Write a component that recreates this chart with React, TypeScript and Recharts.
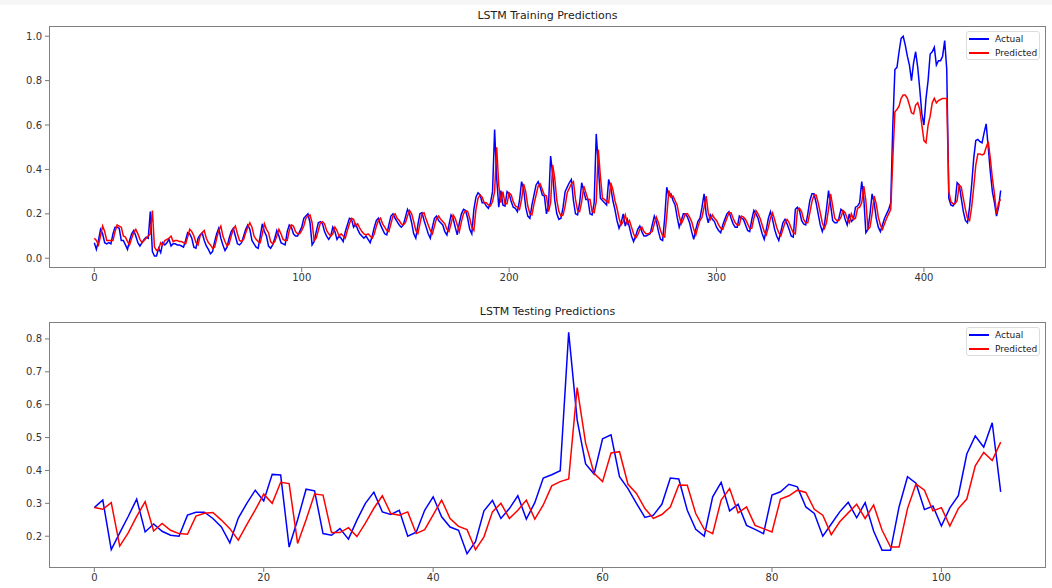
import { LineChart, Line, XAxis, YAxis } from 'recharts'

const FONT = '"DejaVu Sans", sans-serif'

// training set, one value per time step (0..437)
const trainActual = [
  0.07, 0.04, 0.08, 0.13, 0.11, 0.07, 0.065, 0.07, 0.065, 0.11,
  0.14, 0.14, 0.135, 0.08, 0.08, 0.06, 0.04, 0.08, 0.11, 0.125,
  0.1, 0.07, 0.055, 0.07, 0.085, 0.095, 0.09, 0.21, 0.03, 0.01,
  0.01, 0.045, 0.025, 0.07, 0.06, 0.07, 0.085, 0.055, 0.065, 0.065,
  0.06, 0.06, 0.055, 0.05, 0.08, 0.115, 0.11, 0.09, 0.05, 0.045,
  0.09, 0.105, 0.115, 0.08, 0.055, 0.04, 0.02, 0.03, 0.075, 0.11,
  0.135, 0.09, 0.06, 0.035, 0.05, 0.09, 0.12, 0.135, 0.1, 0.065,
  0.06, 0.07, 0.1, 0.13, 0.15, 0.13, 0.08, 0.065, 0.05, 0.045,
  0.1, 0.155, 0.12, 0.1, 0.055, 0.045, 0.06, 0.09, 0.125, 0.1,
  0.07, 0.065, 0.06, 0.12, 0.15, 0.14, 0.11, 0.1, 0.1, 0.12,
  0.14, 0.18, 0.19, 0.2, 0.16, 0.06, 0.075, 0.12, 0.16, 0.165,
  0.155, 0.12, 0.1, 0.085, 0.1, 0.14, 0.12, 0.085, 0.1, 0.09,
  0.075, 0.12, 0.15, 0.18, 0.175, 0.14, 0.155, 0.13, 0.11, 0.1,
  0.09, 0.1, 0.085, 0.07, 0.1, 0.14, 0.17, 0.18, 0.15, 0.13,
  0.11, 0.105, 0.15, 0.19, 0.2, 0.18, 0.165, 0.15, 0.14, 0.15,
  0.185, 0.22, 0.2, 0.16, 0.11, 0.09, 0.15, 0.2, 0.205, 0.17,
  0.14, 0.11, 0.09, 0.14, 0.18, 0.19, 0.17, 0.16, 0.15, 0.12,
  0.105, 0.15, 0.195, 0.18, 0.14, 0.105, 0.16, 0.2, 0.22, 0.215,
  0.18, 0.13, 0.11, 0.22, 0.275, 0.295, 0.285, 0.25, 0.25, 0.235,
  0.225, 0.25, 0.3, 0.58, 0.36, 0.23, 0.305, 0.24, 0.235, 0.3,
  0.29, 0.255, 0.23, 0.225, 0.21, 0.26, 0.345, 0.31, 0.23, 0.19,
  0.18, 0.24, 0.285, 0.33, 0.345, 0.32, 0.285, 0.28, 0.2, 0.24,
  0.46, 0.38, 0.26, 0.2, 0.175, 0.18, 0.23, 0.3, 0.32, 0.34,
  0.355, 0.26, 0.2, 0.195, 0.25, 0.34, 0.3, 0.265, 0.265, 0.2,
  0.195, 0.25, 0.56, 0.42, 0.27, 0.26, 0.25, 0.24, 0.355, 0.32,
  0.26, 0.22, 0.17, 0.135, 0.16, 0.2, 0.145, 0.175, 0.14, 0.1,
  0.075, 0.1, 0.13, 0.145, 0.12, 0.1, 0.1, 0.105, 0.11, 0.15,
  0.19, 0.165, 0.12, 0.085, 0.08, 0.18, 0.32, 0.28, 0.29, 0.26,
  0.24, 0.185, 0.14, 0.17, 0.2, 0.2, 0.185, 0.16, 0.12, 0.085,
  0.13, 0.165, 0.18, 0.23, 0.29, 0.2, 0.16, 0.195, 0.175, 0.165,
  0.14, 0.125, 0.115, 0.15, 0.175, 0.2, 0.21, 0.18, 0.155, 0.14,
  0.14, 0.19, 0.18, 0.175, 0.15, 0.125, 0.12, 0.175, 0.215, 0.2,
  0.18, 0.145, 0.11, 0.085, 0.13, 0.18, 0.21, 0.175, 0.13, 0.1,
  0.08, 0.12, 0.16, 0.175, 0.155, 0.13, 0.1, 0.095, 0.22, 0.23,
  0.215, 0.17, 0.155, 0.15, 0.2, 0.26, 0.29, 0.29, 0.25, 0.2,
  0.15, 0.12, 0.15, 0.22, 0.305, 0.24, 0.17, 0.16, 0.16, 0.18,
  0.22, 0.21, 0.175, 0.15, 0.2, 0.165, 0.175, 0.23, 0.235, 0.25,
  0.345, 0.27, 0.115, 0.13, 0.2, 0.29, 0.25, 0.18, 0.14, 0.12,
  0.15, 0.18, 0.2, 0.22, 0.25, 0.6, 0.85, 0.86, 0.93, 0.99,
  1.0, 0.96, 0.91, 0.87, 0.8, 0.88, 0.93, 0.86, 0.76, 0.65,
  0.6, 0.72, 0.8, 0.92, 0.93, 0.95, 0.87, 0.89, 0.89, 0.91,
  0.98, 0.85, 0.27, 0.24, 0.235, 0.25, 0.34, 0.33, 0.27, 0.21,
  0.17, 0.16, 0.23, 0.33, 0.45, 0.53, 0.535, 0.525, 0.52, 0.565,
  0.605, 0.5, 0.39, 0.3, 0.25, 0.19, 0.23, 0.305,
]

const trainPredicted = [
  0.09, 0.08, 0.06, 0.1, 0.145, 0.12, 0.08, 0.08, 0.08, 0.08,
  0.12, 0.15, 0.145, 0.14, 0.1, 0.095, 0.075, 0.06, 0.09, 0.115,
  0.13, 0.11, 0.085, 0.07, 0.08, 0.09, 0.1, 0.11, 0.215, 0.05,
  0.035, 0.04, 0.07, 0.06, 0.08, 0.085, 0.09, 0.1, 0.075, 0.08,
  0.08, 0.075, 0.075, 0.07, 0.065, 0.095, 0.13, 0.12, 0.1, 0.07,
  0.06, 0.1, 0.115, 0.125, 0.09, 0.07, 0.06, 0.045, 0.05, 0.09,
  0.125, 0.145, 0.1, 0.075, 0.055, 0.065, 0.1, 0.13, 0.145, 0.11,
  0.08, 0.075, 0.085, 0.115, 0.14, 0.16, 0.14, 0.1, 0.085, 0.075,
  0.07, 0.11, 0.155, 0.13, 0.115, 0.075, 0.065, 0.075, 0.1, 0.13,
  0.11, 0.085, 0.08, 0.08, 0.125, 0.15, 0.145, 0.12, 0.11, 0.11,
  0.125, 0.145, 0.18, 0.19, 0.195, 0.16, 0.08, 0.09, 0.125, 0.16,
  0.165, 0.155, 0.125, 0.11, 0.1, 0.11, 0.14, 0.125, 0.1, 0.11,
  0.1, 0.09, 0.125, 0.155, 0.18, 0.175, 0.145, 0.155, 0.135, 0.12,
  0.11, 0.105, 0.11, 0.1, 0.09, 0.11, 0.145, 0.17, 0.18, 0.155,
  0.14, 0.125, 0.12, 0.155, 0.19, 0.2, 0.18, 0.17, 0.155, 0.15,
  0.16, 0.19, 0.215, 0.2, 0.165, 0.125, 0.11, 0.155, 0.2, 0.205,
  0.175, 0.15, 0.125, 0.11, 0.145, 0.18, 0.19, 0.175, 0.165, 0.155,
  0.13, 0.12, 0.155, 0.195, 0.18, 0.15, 0.12, 0.165, 0.2, 0.215,
  0.21, 0.18, 0.14, 0.125, 0.22, 0.27, 0.285, 0.275, 0.25, 0.25,
  0.24, 0.235, 0.255, 0.3, 0.5, 0.33, 0.25, 0.3, 0.245, 0.245,
  0.295, 0.285, 0.255, 0.235, 0.23, 0.22, 0.265, 0.335, 0.3, 0.235,
  0.2, 0.195, 0.245, 0.285, 0.325, 0.335, 0.31, 0.285, 0.28, 0.21,
  0.25, 0.42, 0.36, 0.26, 0.21, 0.19, 0.195, 0.235, 0.295, 0.315,
  0.335, 0.345, 0.265, 0.215, 0.21, 0.255, 0.325, 0.295, 0.265, 0.265,
  0.21, 0.205, 0.255, 0.49, 0.37, 0.27, 0.265, 0.255, 0.25, 0.34,
  0.31, 0.26, 0.225, 0.18, 0.15, 0.165, 0.195, 0.155, 0.17, 0.14,
  0.11, 0.09, 0.105, 0.13, 0.14, 0.12, 0.11, 0.11, 0.115, 0.12,
  0.155, 0.185, 0.16, 0.125, 0.1, 0.095, 0.19, 0.305, 0.275, 0.28,
  0.26, 0.24, 0.19, 0.155, 0.175, 0.2, 0.2, 0.185, 0.165, 0.13,
  0.105, 0.14, 0.17, 0.185, 0.23, 0.28, 0.205, 0.175, 0.195, 0.18,
  0.17, 0.15, 0.135, 0.13, 0.155, 0.18, 0.205, 0.205, 0.18, 0.16,
  0.15, 0.15, 0.19, 0.185, 0.175, 0.155, 0.135, 0.135, 0.18, 0.215,
  0.2, 0.18, 0.15, 0.12, 0.105, 0.14, 0.18, 0.205, 0.175, 0.14,
  0.115, 0.1, 0.13, 0.16, 0.175, 0.16, 0.135, 0.115, 0.11, 0.215,
  0.225, 0.21, 0.175, 0.16, 0.16, 0.205, 0.255, 0.285, 0.285, 0.25,
  0.205, 0.16, 0.135, 0.16, 0.22, 0.29, 0.235, 0.18, 0.17, 0.17,
  0.185, 0.215, 0.205, 0.18, 0.16, 0.2, 0.175, 0.18, 0.225, 0.23,
  0.25, 0.325, 0.26, 0.13, 0.14, 0.2, 0.28, 0.245, 0.185, 0.15,
  0.13, 0.155, 0.18, 0.2, 0.22, 0.45, 0.66, 0.67, 0.685, 0.72,
  0.735, 0.735, 0.72, 0.69, 0.655, 0.65, 0.69, 0.7, 0.67, 0.6,
  0.53, 0.52, 0.6, 0.64, 0.7, 0.72, 0.7, 0.71, 0.715, 0.72,
  0.72, 0.72, 0.3, 0.255, 0.245, 0.245, 0.26, 0.33, 0.32, 0.27,
  0.22, 0.18, 0.17, 0.23, 0.32, 0.42, 0.47, 0.47, 0.465, 0.47,
  0.5, 0.525, 0.45, 0.36, 0.29, 0.2, 0.25, 0.265,
]

// test set, one value per time step (0..107)
const testActual = [
  0.287, 0.31, 0.159, 0.21, 0.26, 0.313, 0.213, 0.237, 0.215, 0.203,
  0.2, 0.264, 0.273, 0.273, 0.254, 0.228, 0.18, 0.255, 0.3, 0.34,
  0.307, 0.388, 0.386, 0.167, 0.25, 0.343, 0.338, 0.208, 0.203, 0.223,
  0.191, 0.249, 0.3, 0.334, 0.274, 0.266, 0.279, 0.2, 0.212, 0.279,
  0.32, 0.259, 0.228, 0.218, 0.147, 0.183, 0.277, 0.309, 0.254, 0.284,
  0.323, 0.252, 0.302, 0.377, 0.387, 0.399, 0.82, 0.554, 0.42, 0.389,
  0.496, 0.508, 0.381, 0.345, 0.3, 0.257, 0.264, 0.297, 0.377, 0.374,
  0.279, 0.221, 0.2, 0.32, 0.364, 0.277, 0.297, 0.233, 0.221, 0.208,
  0.325, 0.335, 0.358, 0.35, 0.289, 0.269, 0.2, 0.237, 0.274, 0.303,
  0.256, 0.302, 0.216, 0.157, 0.157, 0.289, 0.381, 0.361, 0.281, 0.292,
  0.231, 0.286, 0.323, 0.45, 0.505, 0.471, 0.545, 0.335,
]

const testPredicted = [
  0.287, 0.282, 0.302, 0.17, 0.21, 0.26, 0.305, 0.216, 0.239, 0.218,
  0.208, 0.206, 0.261, 0.27, 0.272, 0.249, 0.223, 0.188, 0.235, 0.28,
  0.328, 0.3, 0.364, 0.36, 0.178, 0.25, 0.328, 0.325, 0.211, 0.211,
  0.226, 0.199, 0.24, 0.285, 0.323, 0.269, 0.264, 0.274, 0.208, 0.22,
  0.265, 0.31, 0.254, 0.23, 0.22, 0.159, 0.198, 0.274, 0.3, 0.254,
  0.279, 0.31, 0.252, 0.295, 0.353, 0.366, 0.374, 0.652, 0.483, 0.391,
  0.366, 0.453, 0.457, 0.358, 0.33, 0.284, 0.254, 0.266, 0.289, 0.356,
  0.355, 0.269, 0.221, 0.208, 0.31, 0.345, 0.271, 0.289, 0.233, 0.223,
  0.213, 0.313, 0.323, 0.34, 0.333, 0.282, 0.264, 0.205, 0.244, 0.271,
  0.297, 0.254, 0.295, 0.218, 0.167, 0.167, 0.284, 0.359, 0.34, 0.277,
  0.287, 0.231, 0.284, 0.313, 0.414, 0.455, 0.43, 0.486,
]

const trainXTicks = [0, 100, 200, 300, 400]
const trainYTicks = [0, 0.2, 0.4, 0.6, 0.8, 1.0]
const testXTicks = [0, 20, 40, 60, 80, 100]
const testYTicks = [0.2, 0.3, 0.4, 0.5, 0.6, 0.7, 0.8]

const SERIES = [
  { key: 'actual', name: 'Actual', color: '#0000ff' },
  { key: 'predicted', name: 'Predicted', color: '#ff0000' },
]

const toRows = (actual: number[], predicted: number[]) =>
  actual.map((v, i) => ({ step: i, actual: v, predicted: predicted[i] }))

const WIDTH = 1052
const PLOT_LEFT = 49
const PLOT_RIGHT = 6
const PLOT_WIDTH = WIDTH - PLOT_LEFT - PLOT_RIGHT

function LegendBox() {
  return (
    <div
      style={{
        position: 'absolute',
        right: 5,
        top: 4,
        width: 74,
        height: 29,
        boxSizing: 'border-box',
        border: '1px solid #dcdcdc',
        borderRadius: 3,
        background: 'rgba(255,255,255,0.85)',
        padding: '0 0 0 2px',
        fontFamily: FONT,
        fontSize: 9,
        color: '#222',
      }}
    >
      {SERIES.map((s) => (
        <div key={s.key} style={{ display: 'flex', alignItems: 'center', height: 14 }}>
          <div
            style={{
              flexShrink: 0,
              width: 20,
              height: 2,
              background: s.color,
              marginRight: 6,
            }}
          />
          <span>{s.name}</span>
        </div>
      ))}
    </div>
  )
}

interface PanelProps {
  title: string
  top: number
  height: number
  plotTop: number
  plotHeight: number
  actual: number[]
  predicted: number[]
  xDomain: [number, number]
  xTicks: number[]
  yDomain: [number, number]
  yTicks: number[]
}

function PredictionPanel({
  title,
  top,
  height,
  plotTop,
  plotHeight,
  actual,
  predicted,
  xDomain,
  xTicks,
  yDomain,
  yTicks,
}: PanelProps) {
  const data = toRows(actual, predicted)
  const tickStyle = { fontSize: 10, fill: '#333', fontFamily: FONT }
  return (
    <div style={{ position: 'absolute', left: 0, top, width: WIDTH, height }}>
      <div
        style={{
          position: 'absolute',
          left: PLOT_LEFT,
          width: PLOT_WIDTH,
          top: plotTop - 17,
          lineHeight: '14px',
          textAlign: 'center',
          fontFamily: FONT,
          fontSize: 11,
          color: '#222',
        }}
      >
        {title}
      </div>
      <LineChart
        width={WIDTH}
        height={height}
        data={data}
        margin={{ top: plotTop, right: PLOT_RIGHT, bottom: 0, left: 0 }}
      >
        <XAxis
          dataKey="step"
          type="number"
          domain={xDomain}
          ticks={xTicks}
          allowDataOverflow
          axisLine={false}
          tickLine={{ stroke: '#777' }}
          tickSize={4}
          tickMargin={2}
          height={height - plotTop - plotHeight}
          tick={tickStyle}
        />
        <YAxis
          type="number"
          domain={yDomain}
          ticks={yTicks}
          allowDataOverflow
          axisLine={false}
          tickLine={{ stroke: '#777' }}
          tickSize={4}
          tickMargin={3}
          width={PLOT_LEFT}
          tick={tickStyle}
          tickFormatter={(v: number) => v.toFixed(1)}
        />
        {SERIES.map((s) => (
          <Line
            key={s.key}
            type="linear"
            dataKey={s.key}
            name={s.name}
            stroke={s.color}
            strokeWidth={1.5}
            dot={false}
            isAnimationActive={false}
          />
        ))}
      </LineChart>
      <div
        style={{
          position: 'absolute',
          left: PLOT_LEFT,
          top: plotTop,
          width: PLOT_WIDTH,
          height: plotHeight,
          boxSizing: 'border-box',
          border: '1px solid #808080',
          pointerEvents: 'none',
        }}
      >
        <LegendBox />
      </div>
    </div>
  )
}

export default function App() {
  return (
    <div
      style={{
        position: 'absolute',
        left: 0,
        top: 0,
        width: WIDTH,
        height: 588,
        background: '#fff',
        overflow: 'hidden',
      }}
    >
      <div style={{ position: 'absolute', left: 0, top: 0, width: WIDTH, height: 5, background: '#f6f6f6' }} />
      <PredictionPanel
        title="LSTM Training Predictions"
        top={0}
        height={295}
        plotTop={26}
        plotHeight={242}
        actual={trainActual}
        predicted={trainPredicted}
        xDomain={[-21.85, 458.85]}
        xTicks={trainXTicks}
        yDomain={[-0.044, 1.046]}
        yTicks={trainYTicks}
      />
      <PredictionPanel
        title="LSTM Testing Predictions"
        top={295}
        height={293}
        plotTop={27}
        plotHeight={246}
        actual={testActual}
        predicted={testPredicted}
        xDomain={[-5.35, 112.35]}
        xTicks={testXTicks}
        yDomain={[0.1033, 0.8515]}
        yTicks={testYTicks}
      />
    </div>
  )
}
